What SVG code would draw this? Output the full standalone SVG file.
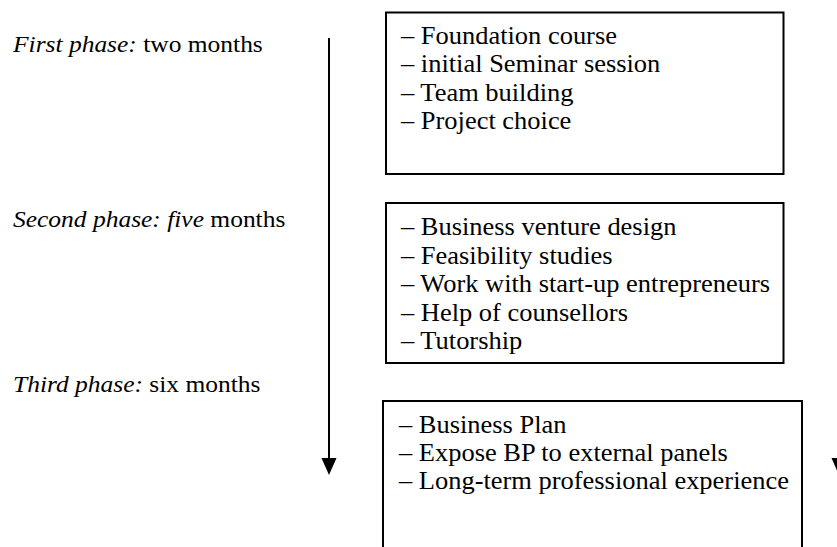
<svg xmlns="http://www.w3.org/2000/svg" width="837" height="547" viewBox="0 0 837 547">
<style>
text{font-family:"Liberation Serif","Times New Roman",serif;font-size:24.5px;fill:#000}
.lab{font-size:23.6px}
.i{font-style:italic}
.box{fill:#fff;stroke:#000;stroke-width:2}
.ln{stroke:#000;stroke-width:2;fill:none}
</style>
<rect width="837" height="547" fill="#fff"/>
<g id="labels">
<text class="lab" transform="translate(13,51.5) scale(1.08,1)"><tspan class="i">First phase:</tspan> two months</text>
<text class="lab" transform="translate(13,226.5) scale(1.08,1)"><tspan class="i">Second phase: five</tspan> months</text>
<text class="lab" transform="translate(13,391.5) scale(1.08,1)"><tspan class="i">Third phase:</tspan> six months</text>
</g>
<g id="connectors">
<line class="ln" x1="329" y1="38" x2="329" y2="460"/>
<polygon points="321.5,458 336.5,458 329,475" fill="#000"/>
<polygon points="831.5,458 846.5,458 839,475" fill="#000"/>
</g>
<g id="phase1">
<rect class="box" x="386" y="12.5" width="397.5" height="161.5"/>
<text transform="translate(401,44) scale(1.08,1)">– Foundation course</text>
<text transform="translate(401,72.3) scale(1.08,1)">– initial Seminar session</text>
<text transform="translate(401,100.6) scale(1.08,1)">– Team building</text>
<text transform="translate(401,129) scale(1.08,1)">– Project choice</text>
</g>
<g id="phase2">
<rect class="box" x="386" y="203" width="397.5" height="160"/>
<text transform="translate(401,235) scale(1.08,1)">– Business venture design</text>
<text transform="translate(401,263.5) scale(1.08,1)">– Feasibility studies</text>
<text transform="translate(401,292) scale(1.08,1)">– Work with start-up entrepreneurs</text>
<text transform="translate(401,320.5) scale(1.08,1)">– Help of counsellors</text>
<text transform="translate(401,349) scale(1.08,1)">– Tutorship</text>
</g>
<g id="phase3">
<rect class="box" x="383" y="401" width="419" height="160"/>
<text transform="translate(399,432.5) scale(1.08,1)">– Business Plan</text>
<text transform="translate(399,461) scale(1.08,1)">– Expose BP to external panels</text>
<text transform="translate(399,489) scale(1.08,1)">– Long-term professional experience</text>
</g>
</svg>
